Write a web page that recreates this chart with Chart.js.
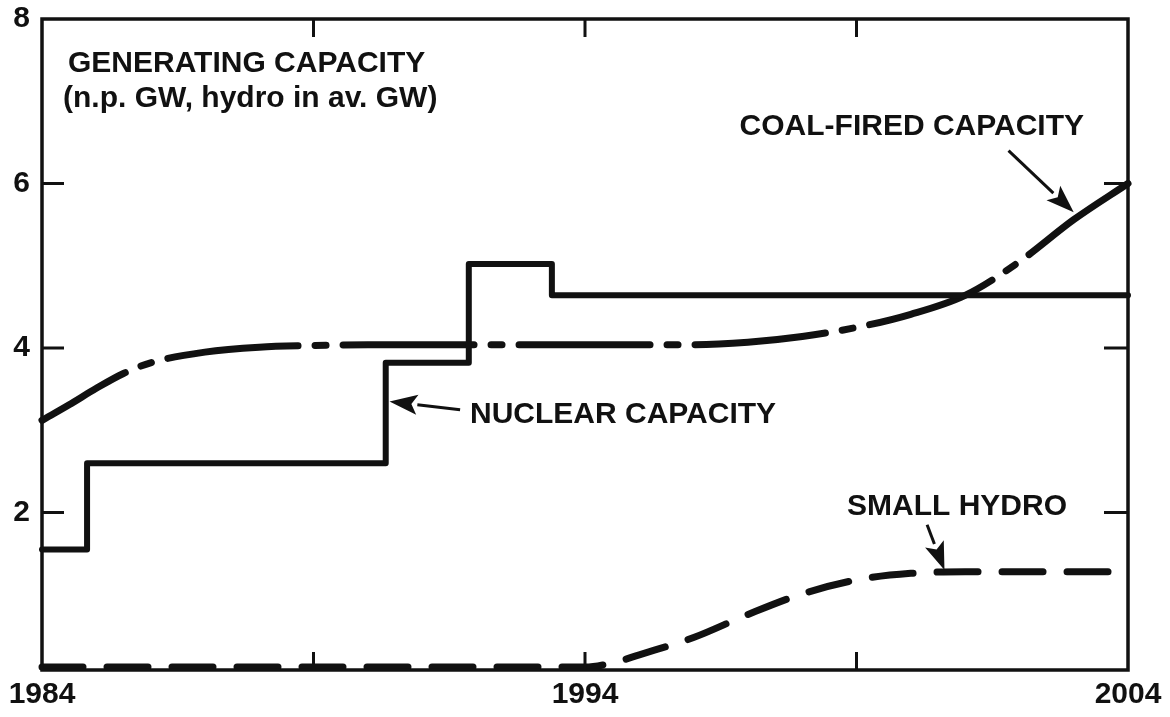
<!DOCTYPE html>
<html>
<head>
<meta charset="utf-8">
<script src="https://cdn.jsdelivr.net/npm/chart.js@4.4.1/dist/chart.umd.min.js"></script>
<style>
  html, body { margin: 0; padding: 0; background: #fff; }
  #wrap { width: 1170px; height: 717px; position: relative; }
</style>
</head>
<body>
<div id="wrap"><canvas id="c"></canvas></div>
<script>
// ---- data ----
const xTicks = [1984, 1989, 1994, 1999, 2004];
const xTickLabels = ['1984', '', '1994', '', '2004'];
const yTicks = [2, 4, 6, 8];
const yTickLabels = ['2', '4', '6', '8'];

const nuclearYears = [1984, 1984.83, 1990.33, 1991.86, 1993.39, 2004];
const nuclearValues = [1.55, 2.6, 3.82, 5.02, 4.64, 4.64];

const coalYears = [1984, 1984.5, 1985, 1985.5, 1986, 1987, 1988, 1989, 1990, 1992, 1994, 1996, 1997, 1998, 1999, 2000, 2001, 2002, 2003, 2004];
const coalValues = [3.12, 3.31, 3.51, 3.69, 3.82, 3.95, 4.01, 4.03, 4.04, 4.04, 4.04, 4.04, 4.07, 4.14, 4.25, 4.41, 4.64, 5.05, 5.56, 6.0];

const hydroYears = [1984, 1994, 1994.5, 1995, 1996, 1997, 1998, 1999, 2000, 2001, 2004];
const hydroValues = [0.12, 0.12, 0.17, 0.27, 0.48, 0.76, 1.01, 1.18, 1.26, 1.28, 1.28];

const titleLines = ['GENERATING CAPACITY', '(n.p. GW, hydro in av. GW)'];
const nuclearLabel = 'NUCLEAR CAPACITY';
const coalLabel = 'COAL-FIRED CAPACITY';
const hydroLabel = 'SMALL HYDRO';

// ---- helpers ----
const INK = '#111';
const FONT = 'bold 30px "Liberation Sans", Arial, sans-serif';
const pts = (xs, ys) => xs.map((x, i) => ({ x: x, y: ys[i] }));

function arrow(ctx, x0, y0, x1, y1) {
  const ang = Math.atan2(y1 - y0, x1 - x0);
  const L = 28, W = 10;
  const bx = x1 - L * Math.cos(ang), by = y1 - L * Math.sin(ang);
  ctx.beginPath();
  ctx.lineWidth = 3;
  ctx.moveTo(x0, y0);
  ctx.lineTo(bx, by);
  ctx.stroke();
  ctx.beginPath();
  ctx.moveTo(x1, y1);
  ctx.lineTo(bx + W * Math.sin(ang), by - W * Math.cos(ang));
  ctx.lineTo(bx + 6 * Math.cos(ang), by + 6 * Math.sin(ang));
  ctx.lineTo(bx - W * Math.sin(ang), by + W * Math.cos(ang));
  ctx.closePath();
  ctx.fill();
}

const framePlugin = {
  id: 'frame',
  afterDatasetsDraw(chart) {
    const ctx = chart.ctx;
    const a = chart.chartArea;
    const xs = chart.scales.x, ys = chart.scales.y;
    ctx.save();
    ctx.strokeStyle = INK;
    ctx.fillStyle = INK;
    ctx.lineCap = 'butt';
    // frame
    ctx.lineWidth = 3.5;
    ctx.strokeRect(a.left, a.top, a.right - a.left, a.bottom - a.top);
    // inward ticks
    ctx.lineWidth = 3;
    xTicks.forEach(v => {
      if (v === xTicks[0] || v === xTicks[xTicks.length - 1]) return;
      const px = xs.getPixelForValue(v);
      ctx.beginPath();
      ctx.moveTo(px, a.bottom); ctx.lineTo(px, a.bottom - 18);
      ctx.moveTo(px, a.top); ctx.lineTo(px, a.top + 18);
      ctx.stroke();
    });
    yTicks.forEach(v => {
      if (v === yTicks[yTicks.length - 1]) return;
      const py = ys.getPixelForValue(v);
      ctx.beginPath();
      ctx.moveTo(a.left, py); ctx.lineTo(a.left + 22, py);
      ctx.moveTo(a.right, py); ctx.lineTo(a.right - 24, py);
      ctx.stroke();
    });
    // texts
    ctx.font = FONT;
    ctx.textBaseline = 'alphabetic';
    ctx.textAlign = 'left';
    ctx.fillText(titleLines[0], a.left + 26, 72);
    ctx.fillText(titleLines[1], a.left + 21, 107);
    ctx.fillText(nuclearLabel, 470, 423);
    ctx.textAlign = 'right';
    ctx.fillText(coalLabel, 1084, 135);
    ctx.textAlign = 'center';
    ctx.fillText(hydroLabel, 957, 515);
    // arrows anchored on the data scales
    arrow(ctx, xs.getPixelForValue(1991.7), ys.getPixelForValue(3.25), xs.getPixelForValue(1990.4), ys.getPixelForValue(3.35));
    arrow(ctx, xs.getPixelForValue(2001.8), ys.getPixelForValue(6.4), xs.getPixelForValue(2003.0), ys.getPixelForValue(5.65));
    arrow(ctx, xs.getPixelForValue(2000.3), ys.getPixelForValue(1.85), xs.getPixelForValue(2000.62), ys.getPixelForValue(1.3));
    ctx.restore();
  }
};

new Chart(document.getElementById('c'), {
  type: 'line',
  data: {
    datasets: [
      { label: 'Nuclear capacity', data: pts(nuclearYears, nuclearValues), stepped: 'before',
        borderColor: INK, borderWidth: 6, borderJoinStyle: 'round', borderCapStyle: 'round',
        pointRadius: 0, fill: false, clip: 8 },
      { label: 'Coal-fired capacity', data: pts(coalYears, coalValues), cubicInterpolationMode: 'monotone',
        borderColor: INK, borderWidth: 7, borderCapStyle: 'round', borderJoinStyle: 'round',
        borderDash: [131, 17, 11, 17], borderDashOffset: 35, pointRadius: 0, fill: false, clip: 8 },
      { label: 'Small hydro', data: pts(hydroYears, hydroValues), cubicInterpolationMode: 'monotone',
        borderColor: INK, borderWidth: 7, borderCapStyle: 'round', borderJoinStyle: 'round',
        borderDash: [41, 24], borderDashOffset: 0, pointRadius: 0, fill: false, clip: 8 }
    ]
  },
  options: {
    responsive: true, maintainAspectRatio: false, animation: false, events: [],
    layout: { autoPadding: false, padding: { top: 19, right: 42, left: 0, bottom: 0 } },
    plugins: { legend: { display: false }, tooltip: { enabled: false }, title: { display: false } },
    scales: {
      x: {
        type: 'linear', min: 1984, max: 2004,
        afterBuildTicks: s => { s.ticks = xTicks.map(v => ({ value: v })); },
        afterFit: s => { s.height = 47; },
        ticks: { autoSkip: false, maxRotation: 0, padding: 7, color: INK,
          font: { family: '"Liberation Sans", Arial, sans-serif', size: 30, weight: 'bold' },
          callback: v => xTickLabels[xTicks.indexOf(v)] },
        grid: { display: false, drawTicks: false }, border: { display: false }
      },
      y: {
        type: 'linear', min: 0.085, max: 8,
        afterBuildTicks: s => { s.ticks = yTicks.map(v => ({ value: v })); },
        afterFit: s => { s.width = 42; },
        ticks: { padding: 12, color: INK,
          font: { family: '"Liberation Sans", Arial, sans-serif', size: 30, weight: 'bold', lineHeight: 0.467 },
          callback: v => yTickLabels[yTicks.indexOf(v)] },
        grid: { display: false, drawTicks: false }, border: { display: false }
      }
    }
  },
  plugins: [framePlugin]
});
</script>
</body>
</html>
